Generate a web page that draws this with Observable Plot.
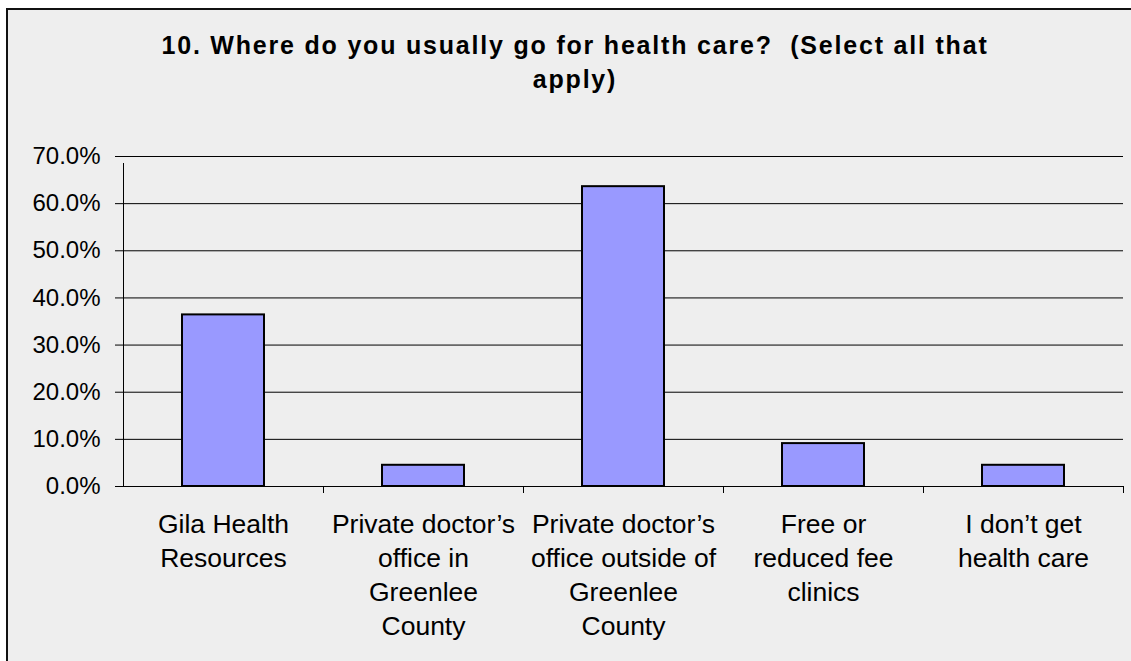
<!DOCTYPE html>
<html>
<head>
<meta charset="utf-8">
<script src="https://cdn.jsdelivr.net/npm/d3@7"></script>
<script src="https://cdn.jsdelivr.net/npm/@observablehq/plot@0.6"></script>
<style>
  html, body { margin: 0; padding: 0; background: #ffffff; overflow: hidden; width: 1131px; height: 661px; }
  #frame { position: absolute; left: 6px; top: 8px; width: 1150px; height: 680px; border: 2px solid #111; background: #eeeeee; }
  #title { position: absolute; left: 0; top: 0; width: 1150px; text-align: center; font-family: "Liberation Sans", Arial, sans-serif; font-weight: bold; font-size: 25px; letter-spacing: 1.8px; line-height: 34px; color: #000; }
  #title .l1 { position: absolute; left: 0; width: 1150px; top: 18px; transform: translateX(-8px); }
  #title .l2 { position: absolute; left: 0; width: 1150px; top: 52px; transform: translateX(-8px); }
  #chart { position: absolute; left: 0; top: 130px; }
</style>
</head>
<body>
<div id="frame">
  <div id="title"><div class="l1">10. Where do you usually go for health care?&nbsp; (Select all that</div><div class="l2">apply)</div></div>
</div>
<div id="chart"></div>
<script>
const categories = [
  "Gila Health Resources",
  "Private doctor’s office in Greenlee County",
  "Private doctor’s office outside of Greenlee County",
  "Free or reduced fee clinics",
  "I don’t get health care"
];
const tickLabels = [
  "Gila Health\nResources",
  "Private doctor’s\noffice in\nGreenlee\nCounty",
  "Private doctor’s\noffice outside of\nGreenlee\nCounty",
  "Free or\nreduced fee\nclinics",
  "I don’t get\nhealth care"
];
const values = [0.364, 0.045, 0.636, 0.091, 0.045];
const yTicks = [0, 0.1, 0.2, 0.3, 0.4, 0.5, 0.6, 0.7];

const data = categories.map((c, i) => ({category: c, value: values[i]}));
const labelOf = new Map(categories.map((c, i) => [c, tickLabels[i]]));

const W = 1131, H = 531;
const mL = 123, mR = 8;
const step = (W - mL - mR) / categories.length;

const plot = Plot.plot({
  width: W,
  height: H,
  marginLeft: mL,
  marginRight: mR,
  marginTop: 26,
  marginBottom: 175,
  style: {fontFamily: "'Liberation Sans', Arial, sans-serif", color: "#000", background: "transparent", overflow: "visible"},
  x: {domain: categories, padding: 0},
  y: {domain: [0, 0.7]},
  marks: [
    Plot.ruleY(yTicks, {y: d => d, stroke: "#000", strokeWidth: 1}),
    Plot.axisY({ticks: yTicks, tickSize: 8, tickPadding: 15, tickFormat: d => (d * 100).toFixed(1) + "%", fontSize: 24, label: null, stroke: "#000"}),
    Plot.axisX({tickSize: 0, tickPadding: 22, tickFormat: d => labelOf.get(d), fontSize: 26.5, lineHeight: 1.283, label: null}),
    Plot.ruleX(categories.slice(0, 1), {x: d => d, dx: -step / 2, y1: 0, y2: 0.7, insetBottom: -7, stroke: "#000"}),
    Plot.ruleX(categories.slice(1), {x: d => d, dx: -step / 2, y1: 0, y2: 0, insetBottom: -7, stroke: "#000"}),
    Plot.ruleX(categories.slice(-1), {x: d => d, dx: step / 2, y1: 0, y2: 0, insetBottom: -7, stroke: "#000"}),
    Plot.barY(data, {x: "category", y: "value", fill: "#9999ff", stroke: "#000", strokeWidth: 2, insetLeft: 59, insetRight: 59})
  ]
});
document.getElementById("chart").appendChild(plot);
</script>
</body>
</html>
